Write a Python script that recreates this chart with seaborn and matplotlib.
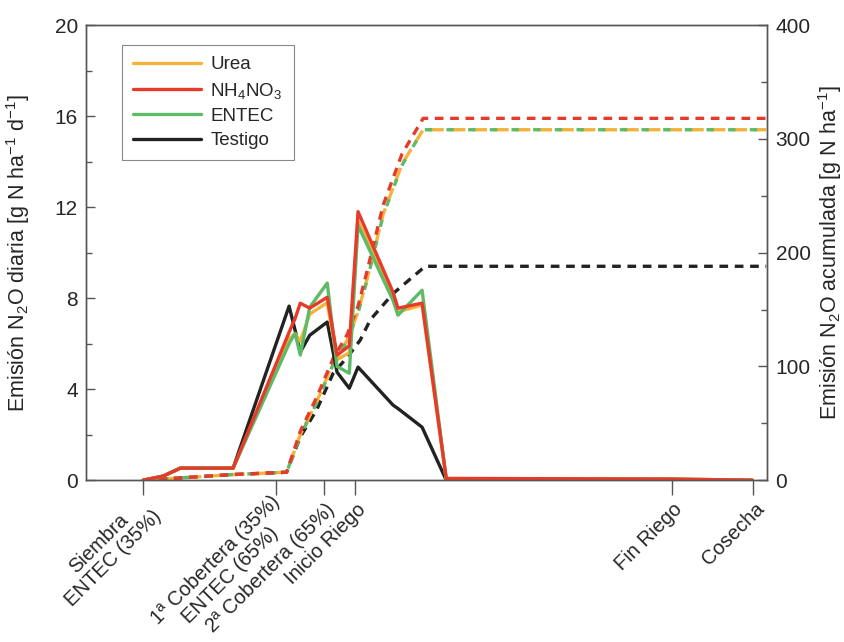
import numpy as np
import pandas as pd
import matplotlib
matplotlib.use("Agg")
import matplotlib.pyplot as plt
import matplotlib.transforms as mtransforms
import seaborn as sns
from matplotlib.ticker import MultipleLocator

sns.set_style("ticks")
plt.rcParams["font.family"] = ["Liberation Sans", "DejaVu Sans"]
plt.rcParams["mathtext.fontset"] = "custom"
plt.rcParams["mathtext.rm"] = "Liberation Sans"
plt.rcParams["mathtext.default"] = "rm"

# días desde siembra
dias = [0, 5.7, 10.6, 25.7, 41.7, 43.4, 44.9, 47.6, 52.6, 55.4, 58.9, 61.4, 71.4, 72.8, 79.7, 86.6, 151, 174]
urea = [0, 0.18, 0.53, 0.53, 6.2, 6.45, 6.1, 7.3, 7.8, 5.3, 5.6, 11.4, 8.1, 7.4, 7.7, 0.05, 0.05, 0]
nh4no3 = [0, 0.18, 0.53, 0.53, 6.5, 7.1, 7.78, 7.56, 8.04, 5.5, 5.9, 11.8, 8.26, 7.56, 7.78, 0.08, 0.05, 0]
entec = [0, 0.18, 0.53, 0.53, 6.0, 6.45, 5.5, 7.6, 8.66, 5.0, 4.7, 11.2, 7.9, 7.25, 8.35, 0.05, 0.05, 0]
testigo = [0, 0.18, 0.53, 0.53, 7.65, 6.6, 5.63, 6.37, 6.95, 4.75, 4.04, 4.97, 3.3, 3.15, 2.33, 0, 0, 0]

# acumulada
dias_acum = [0, 10.6, 25.7, 41, 44.9, 49.6, 54.3, 58.3, 61.4, 64, 68.6, 74, 80, 178]
urea_acum = [0, 2, 5, 7, 40, 69, 103, 123, 148, 177, 234, 278, 308, 308]
nh4no3_acum = [0, 2, 5, 7, 43, 73, 107, 128, 153, 184, 242, 287, 318, 318]
entec_acum = [0, 2, 5, 7, 39, 68, 102, 122, 147, 176, 233, 277, 308, 308]
dias_testigo_acum = [0, 10.6, 25.7, 41, 44.9, 49.6, 54.3, 58.3, 62, 64.9, 71.4, 80.6, 178]
testigo_acum = [0, 2, 5, 7, 38, 62, 94, 108, 123, 141, 164, 188, 188]

tick_dias = [0, 38, 51.7, 60.6, 151, 174.3]
tick_labels = ["Siembra\nENTEC (35%)", "1ª Cobertera (35%)\nENTEC (65%)",
               "2ª Cobertera (65%)", "Inicio Riego", "Fin Riego", "Cosecha"]

colores = {"Urea": "#F4B23A", "NH4NO3": "#E63B2A", "ENTEC": "#5DBA66", "Testigo": "#222222"}
etiquetas = {"Urea": "Urea", "NH4NO3": "NH$_4$NO$_3$", "ENTEC": "ENTEC", "Testigo": "Testigo"}

fig = plt.figure(figsize=(8.44, 6.42), dpi=100)
ax = fig.add_axes([0.102, 0.252, 0.807, 0.709])
ax2 = ax.twinx()

# acumuladas (eje derecho)
acum = [("Testigo", dias_testigo_acum, testigo_acum, (0, (2.6, 2.0))),
        ("Urea", dias_acum, urea_acum, (0, (4.5, 2.0))),
        ("ENTEC", dias_acum, entec_acum, (1.2, (2.2, 4.3))),
        ("NH4NO3", dias_acum, nh4no3_acum, (0, (2.6, 2.0)))]
for nombre, x, y, ls in acum:
    df = pd.DataFrame({"dia": x, "valor": y})
    sns.lineplot(data=df, x="dia", y="valor", ax=ax2, color=colores[nombre],
                 linestyle=ls, linewidth=2.4, errorbar=None)

# diarias (eje izquierdo)
diarias = [("Testigo", testigo), ("Urea", urea), ("ENTEC", entec), ("NH4NO3", nh4no3)]
handles = {}
for nombre, y in diarias:
    df = pd.DataFrame({"dia": dias, "valor": y})
    sns.lineplot(data=df, x="dia", y="valor", ax=ax, color=colores[nombre],
                 linewidth=2.4, errorbar=None)
    handles[nombre] = ax.lines[-1]

ax.set_zorder(ax2.get_zorder() + 1)
ax.patch.set_visible(False)

ax.set_xlim(-16.3, 178.3)
ax.set_ylim(0, 20)
ax2.set_ylim(0, 400)

ax.yaxis.set_major_locator(MultipleLocator(4))
ax.yaxis.set_minor_locator(MultipleLocator(2))
ax2.yaxis.set_major_locator(MultipleLocator(100))
ax2.yaxis.set_minor_locator(MultipleLocator(50))

# etiquetas del eje x como textos, un poco desplazadas a la derecha
ax.set_xticks(tick_dias)
ax.set_xticklabels([])
trans = mtransforms.blended_transform_factory(ax.transData, ax.transAxes)
trans = trans + mtransforms.ScaledTranslation(8 / 100, -26 / 100, fig.dpi_scale_trans)
for xd, txt in zip(tick_dias, tick_labels):
    ax.text(xd, 0, txt, transform=trans, rotation=45, ha="right", va="center",
            rotation_mode="anchor", multialignment="center", fontsize=14.5,
            linespacing=1.1, clip_on=False)

ax.tick_params(axis="x", direction="out", length=11, width=1, color="#555555")
ax.tick_params(axis="y", which="major", direction="in", length=6.5, width=1,
               color="#555555", labelsize=15, pad=6)
ax.tick_params(axis="y", which="minor", direction="in", length=4, width=1, color="#555555")
ax2.tick_params(axis="y", which="major", direction="in", length=6.5, width=1,
                color="#555555", labelsize=15, pad=6)
ax2.tick_params(axis="y", which="minor", direction="in", length=4, width=1, color="#555555")

for a in (ax, ax2):
    for s in a.spines.values():
        s.set_color("#555555")
        s.set_linewidth(1)

ax.set_xlabel("")
ax.set_ylabel("Emisión N$_2$O diaria [g N ha$^{-1}$ d$^{-1}$]", fontsize=15.5, labelpad=16)
ax2.set_ylabel("Emisión N$_2$O acumulada [g N ha$^{-1}$]", fontsize=15.5,
               rotation=90, labelpad=4)

orden = ["Urea", "NH4NO3", "ENTEC", "Testigo"]
leg = ax.legend([handles[n] for n in orden], [etiquetas[n] for n in orden],
                loc="upper left", bbox_to_anchor=(0.053, 0.956), fontsize=13.5,
                handlelength=3.6, handletextpad=0.5, labelspacing=0.38,
                fancybox=False, framealpha=1, edgecolor="#888888", borderpad=0.6,
                borderaxespad=0)
leg.get_frame().set_linewidth(0.8)

fig.savefig("out.png", dpi=100)
